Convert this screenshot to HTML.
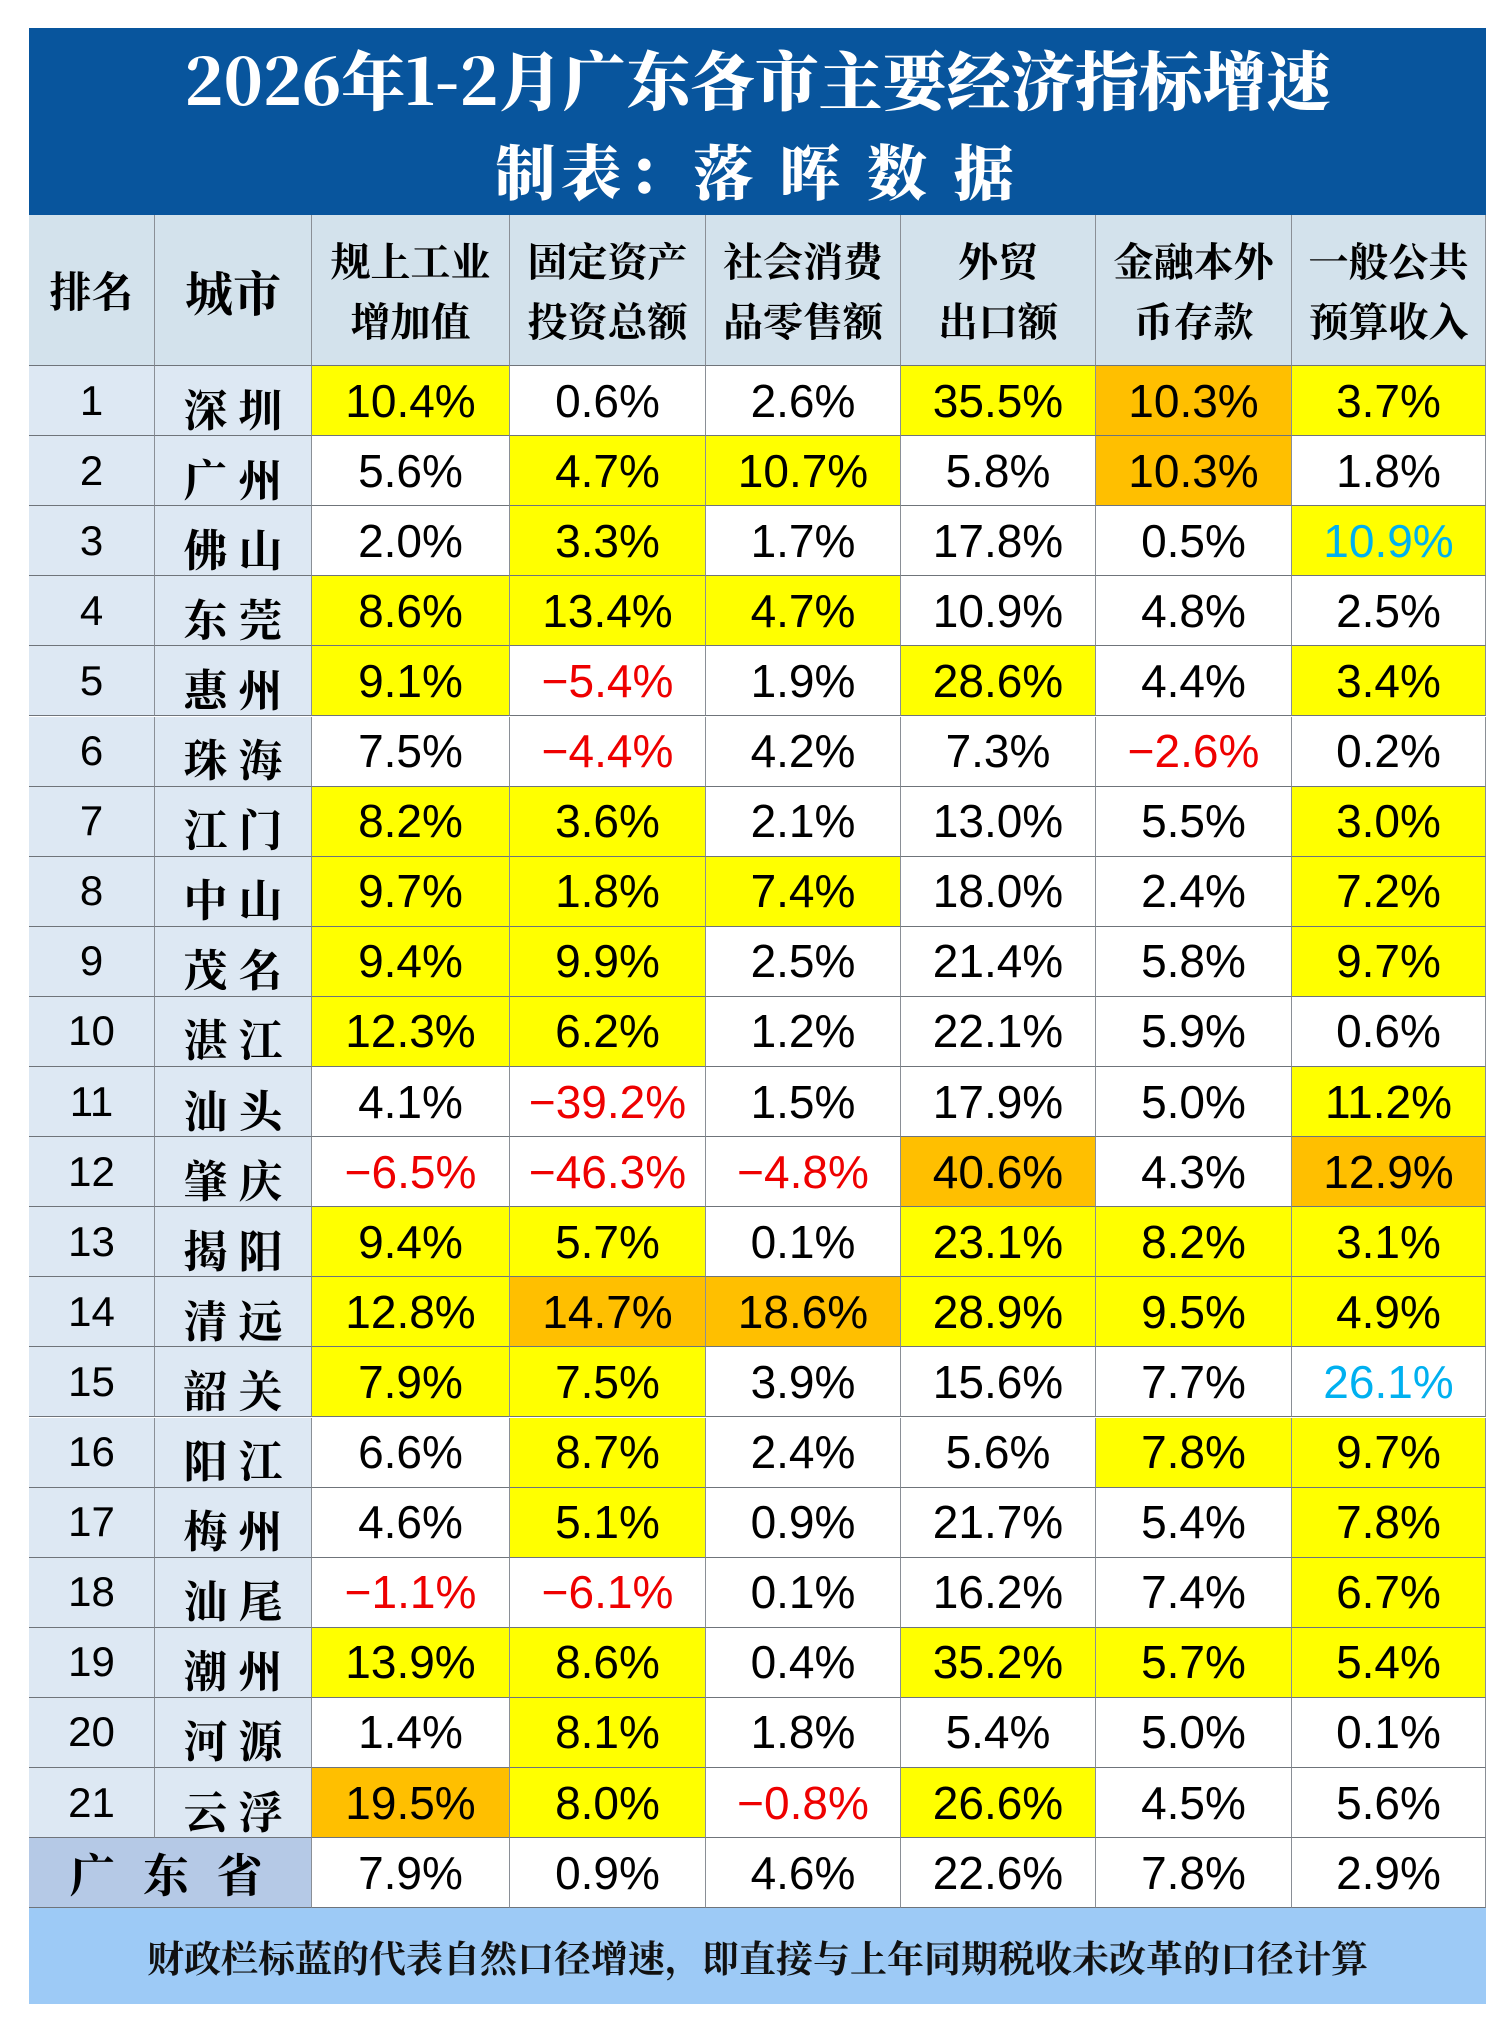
<!DOCTYPE html>
<html><head><meta charset="utf-8">
<style>
body{margin:0;width:1508px;height:2034px;background:#fff;position:relative;overflow:hidden;font-family:"Liberation Sans","Noto Sans CJK SC",sans-serif}
.c{position:absolute;box-sizing:border-box;display:flex;align-items:center;justify-content:center;text-align:center;color:#000}
#title{position:absolute;left:29px;top:28px;width:1457px;height:187px;background:#08559d;overflow:hidden}
.t{position:absolute;left:0;width:100%;text-align:center;color:#fff;font-family:"Noto Serif CJK SC","Noto Sans CJK SC",sans-serif;font-weight:900;font-size:60px;line-height:1}
#foot{position:absolute;left:29px;top:1908px;width:1457px;height:96px;background:#9dcaf6;display:flex;align-items:center;justify-content:center;font-family:"Noto Serif CJK SC","Noto Sans CJK SC",serif;font-size:37px;font-weight:700;color:#111}
</style></head><body>
<div id="title">
<div class="t" style="top:18px;font-size:64px">2026年1-2月广东各市主要经济指标增速</div>
<div class="t" style="top:112px;letter-spacing:6px">制表：落 晖 数 据</div>
</div>
<div id="tbl"></div>
<div id="foot">财政栏标蓝的代表自然口径增速，即直接与上年同期税收未改革的口径计算</div>
<script>
const headers=["规上工业<br>增加值","固定资产<br>投资总额","社会消费<br>品零售额","外贸<br>出口额","金融本外<br>币存款","一般公共<br>预算收入"];
const cities=["深 圳","广 州","佛 山","东 莞","惠 州","珠 海","江 门","中 山","茂 名","湛 江","汕 头","肇 庆","揭 阳","清 远","韶 关","阳 江","梅 州","汕 尾","潮 州","河 源","云 浮"];
const values=[
[10.4,0.6,2.6,35.5,10.3,3.7],[5.6,4.7,10.7,5.8,10.3,1.8],[2.0,3.3,1.7,17.8,0.5,10.9],[8.6,13.4,4.7,10.9,4.8,2.5],
[9.1,-5.4,1.9,28.6,4.4,3.4],[7.5,-4.4,4.2,7.3,-2.6,0.2],[8.2,3.6,2.1,13.0,5.5,3.0],[9.7,1.8,7.4,18.0,2.4,7.2],
[9.4,9.9,2.5,21.4,5.8,9.7],[12.3,6.2,1.2,22.1,5.9,0.6],[4.1,-39.2,1.5,17.9,5.0,11.2],[-6.5,-46.3,-4.8,40.6,4.3,12.9],
[9.4,5.7,0.1,23.1,8.2,3.1],[12.8,14.7,18.6,28.9,9.5,4.9],[7.9,7.5,3.9,15.6,7.7,26.1],[6.6,8.7,2.4,5.6,7.8,9.7],
[4.6,5.1,0.9,21.7,5.4,7.8],[-1.1,-6.1,0.1,16.2,7.4,6.7],[13.9,8.6,0.4,35.2,5.7,5.4],[1.4,8.1,1.8,5.4,5.0,0.1],
[19.5,8.0,-0.8,26.6,4.5,5.6]];
const fills=["ywwyoy","wyywow","wywwwy","yyywww","ywwywy","wwwwww","yywwwy","yyywwy","yywwwy","yywwww","wwwwwy","wwwowo","yywyyy","yooyyy","yywwww","wywwyy","wywwwy","wwwwwy","yywyyy","wywwww","oywyww"];
const blueText=[[2,5],[14,5]];
const province=[7.9,0.9,4.6,22.6,7.8,2.9];
const colX=[29,155,312,510,706,901,1096,1292,1486];
const rowTop=366,rowH=70.1,headTop=215;
const colors={y:"#ffff00",o:"#ffbf00",w:"#ffffff"};
const tbl=document.getElementById('tbl');
function cell(x0,x1,y0,y1,html,bg,css){const d=document.createElement('div');d.className='c';
d.style.cssText=`left:${x0}px;top:${y0}px;width:${x1-x0}px;height:${y1-y0}px;background:${bg};border-right:1px solid #8a8f96;border-bottom:1px solid #6f747a;`+(css||'');
d.innerHTML=html;tbl.appendChild(d);return d;}
let h;
h=cell(colX[0],colX[1],headTop,rowTop,"排名","#d3e2ec","font-size:42px;font-weight:700;font-family:'Noto Serif CJK SC',serif;");

h=cell(colX[1],colX[2],headTop,rowTop,"城市","#d3e2ec","font-size:48px;font-weight:700;font-family:'Noto Serif CJK SC',serif;");

headers.forEach((t,i)=>{const e=cell(colX[i+2],colX[i+3],headTop,rowTop,t,"#d3e2ec","font-size:40px;font-weight:700;line-height:60px;font-family:'Noto Serif CJK SC',serif;");

});
function fmt(v){return v<0?"−"+(-v).toFixed(1)+"%":v.toFixed(1)+"%";}
const numCss="font-size:46px;";
cities.forEach((c,r)=>{const y0=rowTop+r*rowH,y1=y0+rowH;
let e=cell(colX[0],colX[1],y0,y1,String(r+1),"#dde8f3","font-size:42px;");


e=cell(colX[1],colX[2],y0,y1,c,"#dde8f3","font-size:44px;font-weight:700;font-family:'Noto Serif CJK SC',serif;padding-top:12px;");


values[r].forEach((v,k)=>{let col=v<0?"#ee0000":"#000";if(blueText.some(b=>b[0]==r&&b[1]==k))col="#00b0f0";
const d=cell(colX[k+2],colX[k+3],y0,y1,fmt(v),colors[fills[r][k]],numCss+`color:${col};`);

});});
const py0=rowTop+21*rowH,py1=1908;
let p=cell(colX[0],colX[2],py0,py1,"广 东 省","#b5c9e6","font-size:46px;font-weight:700;font-family:'Noto Serif CJK SC',serif;letter-spacing:8px;");


province.forEach((v,k)=>{const d=cell(colX[k+2],colX[k+3],py0,py1,fmt(v),"#fff",numCss);

});
</script>
</body></html>
